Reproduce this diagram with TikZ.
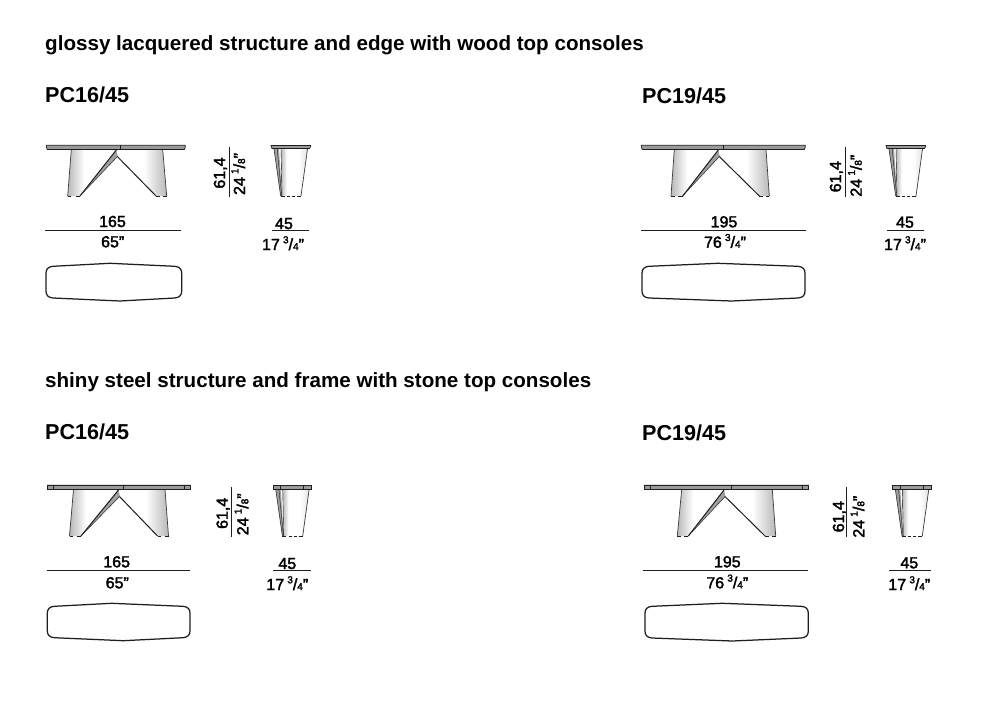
\documentclass[tikz,border=0pt]{standalone}
\usepackage{fontspec}
\setmainfont{Liberation Sans}
\newfontfamily\medf[FakeBold=2.2]{Liberation Sans}
\newfontfamily\boldf{Liberation Sans Bold}
\definecolor{ink}{HTML}{1E1E1E}
\definecolor{edge}{HTML}{3C3C3C}
\definecolor{topgrey}{HTML}{9A9A9A}
\definecolor{legdark}{HTML}{B8B8B8}
\definecolor{legpale}{HTML}{E2E2E2}
\definecolor{strip}{HTML}{A0A0A0}
\pgfdeclarehorizontalshading{legleft}{100bp}{color(0bp)=(legdark); color(25bp)=(legdark); color(42bp)=(white); color(100bp)=(white)}
\pgfdeclarehorizontalshading{legright}{100bp}{color(0bp)=(white); color(52bp)=(white); color(75bp)=(legdark); color(100bp)=(legdark)}
\pgfdeclarehorizontalshading{legside}{100bp}{color(0bp)=(legdark); color(25bp)=(legdark); color(36bp)=(white); color(58bp)=(white); color(75bp)=(legpale); color(100bp)=(legpale)}
\newcommand{\sz}{\fontsize{16}{16}\selectfont}
\newcommand{\fracdim}[2]{\raisebox{.42em}{\fontsize{10}{10}\selectfont #1}/{\fontsize{10}{10}\selectfont #2}}
\newcommand{\gap}{\hspace{.2em}}
\tikzset{
  titletext/.style={anchor=base west,inner sep=0,font=\boldf\fontsize{20.6}{22}\selectfont,text=black},
  modeltext/.style={anchor=base west,inner sep=0,font=\boldf\fontsize{21.6}{22}\selectfont,text=black},
  dimtext/.style={anchor=base,inner sep=0,font=\medf\sz,text=black},
  dimrot/.style={anchor=base,inner sep=0,font=\medf\sz,text=black,rotate=90},
  dimline/.style={draw=ink,line width=.75pt},
  outl/.style={draw=edge,line width=.7pt},
  heavy/.style={draw=ink,line width=1pt},
  foot/.style={draw=ink,line width=1pt},
  planline/.style={draw=ink,line width=1.25pt,line join=round},
}
% front elevation: origin at (apex x, top y)
% #1 topL #2 topR #3 seam #4 LT #5 LB #6 LI #7 RI #8 RB #9 RT
\newcommand{\frontview}[9]{%
  \shade[shading=legleft] (#4,4.5) -- (#5,51) -- (#6,51) -- (-1,4.5) -- cycle;
  \shade[shading=legright] (1,4.5) -- (0,11.5) -- (#7,51) -- (#8,51) -- (#9,4.5) -- cycle;
  \fill[strip] (#6,51) -- (-1,5) -- (0.5,11.5) -- cycle;
  \draw[outl] (#4,4.5) -- (#5,51);
  \draw[outl] (#9,4.5) -- (#8,51);
  \draw[heavy] (#6,51) -- (-1,5);
  \draw[draw=ink,line width=.4pt] (#6,51) -- (0,11.5);
  \draw[heavy] (0,11.5) -- (#7,51);
  \draw[foot] (#5,51.3) -- ++(3.5,0) (#6,51.3) -- ++(-4.5,0);
  \draw[foot] (#7,51.3) -- ++(3.5,0) (#8,51.3) -- ++(-3.5,0);
  \filldraw[fill=topgrey,draw=ink,line width=.7pt] (#1,0.3) -- (#2,0.3) -- (#2,2) -- (#2-1,4.5) -- (#1+1,4.5) -- (#1,2) -- cycle;
  \draw[draw=ink,line width=.5pt] (#3,0.3) -- (#3,4.5);
}
% steel frame additions, same origin: #1 capL #2 capR #3 frameL #4 frameR #5 topL #6 topR
\newcommand{\steelframe}[6]{%
  \filldraw[fill=topgrey,draw=ink,line width=.7pt] (#5,0.3) rectangle (#6,4.5);
  \draw[draw=ink,line width=.6pt] (#1,0.3) -- (#1,4.5) (#2,0.3) -- (#2,4.5);
  \draw[draw=ink,line width=.8pt] (#3,4.8) -- (#4,4.8);
}
% side elevation: origin at (left of the top, top y); #1 = 1 steel, 0 lacquer
\newcommand{\sideview}[1]{%
  \shade[shading=legside] (10,4) -- (11,51) -- (30,51) -- (36.5,4) -- cycle;
  \fill[strip] (3,4) -- (9.7,51) -- (11,51) -- (8,4) -- cycle;
  \draw[outl] (3,4) -- (9.7,51);
  \draw[draw=ink,line width=.4pt] (6.2,4) -- (10.7,51);
  \draw[draw=ink,line width=.4pt] (10,4) -- (11,51);
  \draw[outl] (36.5,4) -- (30,51);
  \draw[foot] (9.7,51.3) -- ++(4,0) (16,51.3) -- ++(3,0) (21,51.3) -- ++(3,0) (26,51.3) -- (30,51.3);
  \ifnum#1=1
    \filldraw[fill=topgrey,draw=ink,line width=.7pt] (0.3,0.3) rectangle (39,4.5);
    \draw[draw=ink,line width=.6pt] (8,.3) -- (8,4.5) (31,.3) -- (31,4.5);
  \else
    \filldraw[fill=topgrey,draw=ink,line width=.7pt] (0,0.6) -- (39.7,.6) -- (38.7,3.5) -- (1,3.5) -- cycle;
  \fi
}
% plan: #1 xl #2 xr #3 ytop #4 ybot #5 apex top #6 apex bottom
\newcommand{\planview}[6]{%
  \draw[planline] (#1+7,#3+3) -- (#5,#3) -- (#2-7,#3+3)
    .. controls (#2-2,#3+3.4) and (#2,#3+6) .. (#2,#3+10)
    -- (#2,#4-10)
    .. controls (#2,#4-6) and (#2-2,#4-3.4) .. (#2-7,#4-3)
    -- (#6,#4) -- (#1+7,#4-3)
    .. controls (#1+2,#4-3.4) and (#1,#4-6) .. (#1,#4-10)
    -- (#1,#3+10)
    .. controls (#1,#3+6) and (#1+2,#3+3.4) .. (#1+7,#3+3) -- cycle;
}
\begin{document}
\begin{tikzpicture}[x=1pt,y=-1pt]
\useasboundingbox (0,0) rectangle (1000,714);
\fill[white] (0,0) rectangle (1000,714);

% headings
\node[titletext] (h1) at (45,50.7) {glossy lacquered structure and edge with wood top consoles};
\node[titletext] (h2) at (45,387) {shiny steel structure and frame with stone top consoles};
\node[modeltext] (m1) at (45,103) {PC16/45};
\node[modeltext] (m2) at (642,103.5) {PC19/45};
\node[modeltext] (m3) at (45,439.7) {PC16/45};
\node[modeltext] (m4) at (642,440) {PC19/45};

% front views, lacquered
\begin{scope}[shift={(117.3,145)}]
  \frontview{-71}{68}{3}{-46}{-49.6}{-37.3}{38.7}{49.4}{45.4}
\end{scope}
\begin{scope}[shift={(719.3,145)}]
  \frontview{-78}{86}{4}{-45}{-48.3}{-36.6}{40}{50}{46.7}
\end{scope}
% front views, steel
\begin{scope}[shift={(119.5,485)}]
  \frontview{-72}{70.5}{3.8}{-46}{-50}{-38.5}{38}{49}{45.5}
  \steelframe{-66}{64.5}{-50}{50}{-72}{70.5}
  \draw[draw=ink,line width=.5pt] (3.8,.3) -- (3.8,4.5);
\end{scope}
\begin{scope}[shift={(725,485)}]
  \frontview{-80.3}{83.3}{6.7}{-43.3}{-47.7}{-36.7}{40}{50.7}{47.3}
  \steelframe{-74.3}{77.3}{-54}{56.7}{-80.3}{83.3}
  \draw[draw=ink,line width=.5pt] (6.7,.3) -- (6.7,4.5);
\end{scope}

% side views
\begin{scope}[shift={(271,145)}]\sideview{0}\end{scope}
\begin{scope}[shift={(886,145)}]\sideview{0}\end{scope}
\begin{scope}[shift={(272.7,485)}]\sideview{1}\end{scope}
\begin{scope}[shift={(892.3,485)}]\sideview{1}\end{scope}

% plans
\planview{46}{181.7}{263.3}{301}{110}{120}
\planview{642}{805}{263.3}{301}{718}{731.7}
\planview{47.3}{190}{603.3}{640.7}{111.7}{123.3}
\planview{645}{808.3}{603.3}{641}{722.3}{732.3}

% width dimensions
\draw[dimline] (45,230.4) -- (181,230.4);
\node[dimtext] (a1) at (112.5,227) {165};
\node[dimtext] (a2) at (112.7,247.3) {65”};
\draw[dimline] (641,230.2) -- (805.5,230.2);
\node[dimtext] (b1) at (724,227.3) {195};
\node[dimtext] (b2) at (725,247.7) {76\gap\fracdim{3}{4}”};
\draw[dimline] (46.7,570) -- (189.7,570);
\node[dimtext] (c1) at (116.7,567.3) {165};
\node[dimtext] (c2) at (117.3,588.3) {65”};
\draw[dimline] (643.3,570) -- (808,570);
\node[dimtext] (d1) at (727.3,567.3) {195};
\node[dimtext] (d2) at (727.3,588.3) {76\gap\fracdim{3}{4}”};

% depth dimensions
\draw[dimline] (271.7,230.5) -- (309,230.5);
\node[dimtext] (e1) at (284,229) {45};
\node[dimtext] (e2) at (283,250) {17\gap\fracdim{3}{4}”};
\draw[dimline] (886.7,230.5) -- (924.3,230.5);
\node[dimtext] (f1) at (905,227.7) {45};
\node[dimtext] (f2) at (905,250) {17\gap\fracdim{3}{4}”};
\draw[dimline] (273.3,570) -- (310.7,570);
\node[dimtext] (g1) at (287.3,569) {45};
\node[dimtext] (g2) at (287.3,590) {17\gap\fracdim{3}{4}”};
\draw[dimline] (889.3,570) -- (930.7,570);
\node[dimtext] (k1) at (909.3,568.3) {45};
\node[dimtext] (k2) at (909.3,590) {17\gap\fracdim{3}{4}”};

% height dimensions
\draw[dimline] (229,146.7) -- (229,197.3);
\node[dimrot] (p1) at (225,173) {61,4};
\node[dimrot] (p2) at (245,174) {24\gap\fracdim{1}{8}”};
\draw[dimline] (845,146.7) -- (845,197.3);
\node[dimrot] (q1) at (841,176.7) {61,4};
\node[dimrot] (q2) at (861.7,175.7) {24\gap\fracdim{1}{8}”};
\draw[dimline] (231,486.7) -- (231,537.3);
\node[dimrot] (r1) at (227.7,513.3) {61,4};
\node[dimrot] (r2) at (248.3,514.3) {24\gap\fracdim{1}{8}”};
\draw[dimline] (846.7,486.7) -- (846.7,537.3);
\node[dimrot] (s1) at (844,516.7) {61,4};
\node[dimrot] (s2) at (864.3,516.7) {24\gap\fracdim{1}{8}”};
\end{tikzpicture}
\end{document}
